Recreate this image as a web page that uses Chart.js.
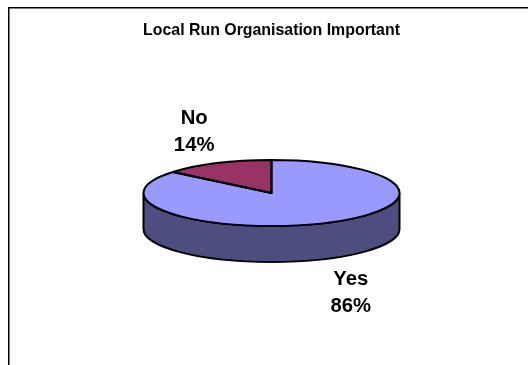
<!DOCTYPE html>
<html>
<head>
<meta charset="utf-8">
<title>Local Run Organisation Important</title>
<script src="https://cdn.jsdelivr.net/npm/chart.js@4"></script>
<style>
  html, body { margin: 0; padding: 0; background: #fff; }
  #wrap { width: 528px; height: 365px; }
</style>
</head>
<body>
<div id="wrap"><canvas id="grafico" width="528" height="365"></canvas></div>
<script>
const categorias = ['Yes', 'No'];
const porcentajes = [86, 14];
const colores = ['#9999FF', '#993366'];
const titulo = 'Local Run Organisation Important';

const colorPared = '#4D4D80';
const fuente = '"Liberation Sans", Arial, sans-serif';
const centro = { x: 271.5, y: 193 };
const inclinacion = 0.258;   // ry / rx of the top face
const grosor = 36;           // height of the side wall
const trazo = 2;

/** Squashes the pie into an ellipse and adds the wall, outlines and labels */
const pie3d = {
    id: 'pie3d',
    beforeDraw(chart) {
        const { ctx, width, height } = chart;
        ctx.save();
        ctx.strokeStyle = '#000';
        ctx.lineWidth = 1.5;
        ctx.beginPath();
        ctx.moveTo(8.75, height);
        ctx.lineTo(8.75, 7.75);
        ctx.lineTo(width, 7.75);
        ctx.stroke();
        ctx.restore();
    },
    beforeDatasetsDraw(chart) {
        const { ctx } = chart;
        const arc = chart.getDatasetMeta(0).data[0];
        const rx = arc.outerRadius, ry = rx * inclinacion;

        // side wall, front half only
        ctx.save();
        ctx.beginPath();
        ctx.ellipse(centro.x, centro.y, rx, ry, 0, 0, Math.PI);
        ctx.lineTo(centro.x - rx, centro.y + grosor);
        ctx.ellipse(centro.x, centro.y + grosor, rx, ry, 0, Math.PI, 0, true);
        ctx.closePath();
        ctx.fillStyle = colorPared;
        ctx.fill();
        ctx.lineWidth = trazo;
        ctx.strokeStyle = '#000';
        ctx.stroke();
        ctx.restore();

        ctx.save();
        ctx.translate(centro.x, centro.y);
        ctx.scale(1, inclinacion);
        ctx.translate(-arc.x, -arc.y);
    },
    afterDatasetsDraw(chart) {
        const { ctx } = chart;
        ctx.restore();
        const arcos = chart.getDatasetMeta(0).data;

        arcos.forEach((arc, i) => {
            const rx = arc.outerRadius, ry = rx * inclinacion;
            ctx.save();
            ctx.beginPath();
            ctx.moveTo(centro.x, centro.y);
            ctx.ellipse(centro.x, centro.y, rx, ry, 0, arc.startAngle, arc.endAngle);
            ctx.closePath();
            ctx.lineWidth = trazo;
            ctx.lineJoin = 'round';
            ctx.strokeStyle = '#000';
            ctx.stroke();

            // value label, pushed out along the slice's middle angle
            const medio = (arc.startAngle + arc.endAngle) / 2;
            const dx = Math.cos(medio), dy = Math.sin(medio);
            const lx = centro.x + 1 + dx * 184;
            const ly = centro.y + dy * 67 + (dy > 0 ? grosor + 3 : 0);
            ctx.fillStyle = '#000';
            ctx.font = 'bold 20.3px ' + fuente;
            ctx.textAlign = 'center';
            ctx.textBaseline = 'middle';
            ctx.fillText(categorias[i], lx, ly - 13.5);
            ctx.fillText(porcentajes[i] + '%', lx, ly + 13.5);
            ctx.restore();
        });
    }
};

new Chart(document.getElementById('grafico'), {
    type: 'pie',
    data: {
        labels: categorias,
        datasets: [{ data: porcentajes, backgroundColor: colores, borderWidth: 0, radius: 128 }]
    },
    options: {
        responsive: false,
        animation: false,
        events: [],
        layout: { padding: { left: 15, top: 21 } },
        plugins: {
            legend: { display: false },
            tooltip: { enabled: false },
            title: {
                display: true,
                text: titulo,
                color: '#000',
                font: { family: fuente, size: 15.9, weight: 'bold' },
                padding: { top: 0, bottom: 8 }
            }
        }
    },
    plugins: [pie3d]
});
</script>
</body>
</html>
